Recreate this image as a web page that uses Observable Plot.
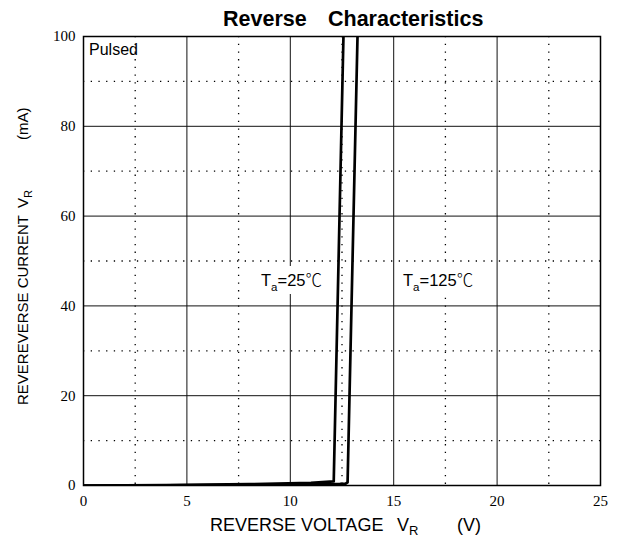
<!DOCTYPE html>
<html><head><meta charset="utf-8">
<script src="https://cdn.jsdelivr.net/npm/d3@7"></script>
<script src="https://cdn.jsdelivr.net/npm/@observablehq/plot@0.6"></script>
<style>body{margin:0;background:#fff}</style>
</head><body><div id="chart"></div>
<script>
// ---- data ----
const xTicks = [0, 5, 10, 15, 20, 25];
const yTicks = [0, 20, 40, 60, 80, 100];
const xMajor = [5, 10, 15, 20];
const xMinor = [2.5, 7.5, 12.5, 17.5, 22.5];
const yMajor = [20, 40, 60, 80];
const yMinor = [10, 30, 50, 70, 90];
// Ta = 25 ℃ curve (V, mA)
const v25 = [0, 4, 8, 11, 12.1, 12.57];
const i25 = [0, 0.1, 0.3, 0.6, 0.9, 100];
// Ta = 125 ℃ curve (V, mA)
const v125 = [0, 4, 8, 12.4, 12.68, 12.77, 13.25];
const i125 = [0, 0.05, 0.15, 0.35, 0.4, 0.7, 100];
const seriesLabels = ["25", "125"];
const unitText = "℃";
const titleWords = ["Reverse", "Characteristics"];
const noteText = "Pulsed";

const sans = "'Liberation Sans', Arial, sans-serif";
const cjk = "'Noto Sans CJK JP', 'Noto Sans CJK SC', sans-serif";
const serif = "'Liberation Serif', 'Times New Roman', serif";

const c25 = v25.map((v, k) => ({v, i: i25[k]}));
const c125 = v125.map((v, k) => ({v, i: i125[k]}));

const dotted = {stroke: "#000", strokeWidth: 1.3, strokeDasharray: "1.3,6.4"};
const solid = {stroke: "#111", strokeWidth: 1};

const plot = Plot.plot({
  width: 621, height: 542,
  marginLeft: 83, marginRight: 21, marginTop: 36, marginBottom: 57,
  style: {fontFamily: serif, fontSize: "15px", color: "#000", background: "#fff"},
  x: {domain: [0, 25]},
  y: {domain: [0, 100]},
  marks: [
    Plot.ruleX(xMinor, dotted),
    Plot.ruleY(yMinor, dotted),
    Plot.ruleX(xMajor, solid),
    Plot.ruleY(yMajor, solid),
    Plot.line(c25, {x: "v", y: "i", stroke: "#000", strokeWidth: 2.7, clip: true}),
    Plot.line(c125, {x: "v", y: "i", stroke: "#000", strokeWidth: 2.7, clip: true}),
    Plot.frame({stroke: "#000", strokeWidth: 1.5}),
    Plot.axisX(xTicks, {tickSize: 0, tickPadding: 10, label: null, fontSize: 15, fontFamily: serif}),
    Plot.axisY(yTicks, {tickSize: 0, tickPadding: 8, label: null, fontSize: 15, fontFamily: serif})
  ]
});
document.getElementById("chart").appendChild(plot);

const svg = d3.select(plot);
svg.selectAll("g[aria-label*='tick label'] text")
  .style("font-family", serif).style("font-size", "15px").style("font-variant", "normal");

function txt(sel, size, weight) {
  return sel.append("text")
    .style("font-family", sans).style("font-size", size + "px")
    .style("font-weight", weight || "normal")
    .attr("text-anchor", "start").style("text-anchor", "start").attr("fill", "#000");
}

// title
const t = txt(svg, 21.5, "bold").attr("y", 26);
t.append("tspan").attr("x", 223).text(titleWords[0]);
t.append("tspan").attr("x", 328).text(titleWords[1]);

// Pulsed
txt(svg, 16).attr("x", 89).attr("y", 55).text(noteText);

// x axis label
const xl = txt(svg, 18).attr("y", 531);
xl.append("tspan").attr("x", 210).text("REVERSE VOLTAGE");
xl.append("tspan").attr("x", 397).text("V");
xl.append("tspan").style("font-size", "13px").attr("dy", 4).text("R");
xl.append("tspan").attr("x", 457).attr("dy", -4).text("(V)");

// y axis label (rotated)
function yPiece(y, build) {
  const g = txt(svg, 15).attr("transform", `translate(28,${y}) rotate(-90)`);
  build(g);
}
yPiece(405, g => g.text("REVEREVERSE CURRENT"));
yPiece(208, g => { g.append("tspan").text("V"); g.append("tspan").style("font-size", "11px").attr("dy", 4).text("R"); });
yPiece(140, g => g.text("(mA)"));

// series labels with white background
function tLabel(x, y, label) {
  const g = svg.append("g");
  const rect = g.append("rect").attr("fill", "#fff");
  const tx = txt(g, 16.5).attr("x", x).attr("y", y);
  tx.append("tspan").text("T");
  tx.append("tspan").style("font-size", "11.5px").attr("dy", 5).text("a");
  tx.append("tspan").attr("dy", -5).text("=" + label);
  tx.append("tspan").style("font-family", cjk).style("font-weight", "300").text(unitText);
  const b = tx.node().getBBox();
  rect.attr("x", b.x - 2).attr("y", b.y - 1).attr("width", b.width + 4).attr("height", b.height + 2);
}
tLabel(261, 286, seriesLabels[0]);
tLabel(403, 286, seriesLabels[1]);
</script>
</body></html>
